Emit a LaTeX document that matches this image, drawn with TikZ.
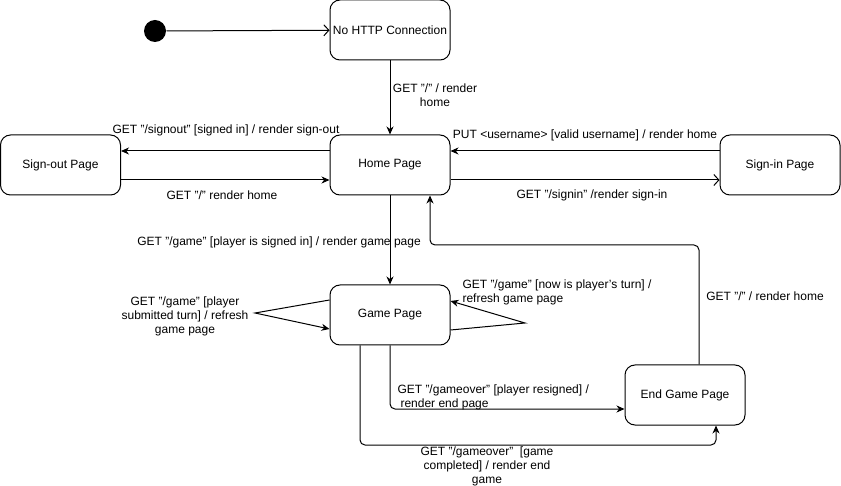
\documentclass[tikz,border=0pt]{standalone}
\usepackage{fontspec}
\setmainfont{Liberation Sans}
\usetikzlibrary{arrows.meta}
\begin{document}
\begin{tikzpicture}[x=1pt,y=-1pt,line width=1pt,
  state/.style={draw, rectangle, rounded corners=10pt, minimum width=120pt, minimum height=60pt, inner sep=0pt, font=\fontsize{12}{14}\selectfont},
  lbl/.style={font=\fontsize{12}{14}\selectfont, align=center, inner sep=0pt},
  lbll/.style={font=\fontsize{12}{14}\selectfont, align=left, inner sep=0pt, anchor=west},
  tr/.style={-{Stealth[length=8pt,width=7pt,inset=2.5pt]}},
  op/.style={-{Straight Barb[length=5pt,width=11pt]}}]
\useasboundingbox (0,0) rectangle (841,486);
\node[circle, fill=black, minimum size=22pt, inner sep=0pt] (start) at (155,31) {};
\node[state] (nohttp) at (390,30) {No HTTP Connection};
\node[state] (home) at (390,165) {Home Page};
\node[state] (signout) at (60.5,165) {Sign-out Page};
\node[state] (signin) at (780,165) {Sign-in Page};
\node[state] (game) at (390,315) {Game Page};
\node[state] (endg) at (685,395) {End Game Page};

\coordinate (lp) at (255,313);
\coordinate (rp) at (525,323);
\coordinate (c1) at (716,445);
\coordinate (c2) at (699,245);

\draw[op] (start) -- (nohttp);
\draw[tr] (nohttp) -- (home);
\draw[tr] ([yshift=14pt]home.west) -- ([yshift=14pt]signout.east);
\draw[tr] ([yshift=-15pt]signout.east) -- ([yshift=-15pt]home.west);
\draw[tr] ([yshift=14pt]signin.west) -- ([yshift=14pt]home.east);
\draw[op] ([yshift=-15pt]home.east) -- ([yshift=-15pt]signin.west);
\draw[tr] (home) -- (game);
\draw[tr] ([yshift=15pt]game.west) -- (lp) -- ([yshift=-14pt]game.west);
\draw[tr] ([yshift=-15pt]game.east) -- (rp) -- ([yshift=14pt]game.east);
\draw[tr, rounded corners=5pt] (game.south) |- ([yshift=-14pt]endg.west);
\draw[tr, rounded corners=5pt] ([xshift=-30pt]game.south) |- (c1) -- ([xshift=31pt]endg.south);
\draw[tr, rounded corners=5pt] ([xshift=14pt]endg.north) -- (c2) -| ([xshift=40pt]home.south);

\node[lbl] (l1) at (435,95.5) {GET "/" / render\\home};
\node[lbl] (l2) at (226,130) {GET "/signout" [signed in] / render sign-out};
\node[lbl] (l3) at (222,195) {GET "/" render home};
\node[lbl] (l4) at (585,135) {PUT <username> [valid username] / render home};
\node[lbl] (l5) at (592,195) {GET "/signin" /render sign-in};
\node[lbl] (l6) at (279,242) {GET "/game" [player is signed in] / render game page};
\node[lbl] (l7) at (185,316.5) {GET "/game" [player\\submitted turn] / refresh\\game page};
\node[lbll] (l8) at (462,292) {GET "/game" [now is player's turn] /\\refresh game page};
\node[lbll] (l9) at (397,397) {GET "/gameover" [player resigned] /\\\hspace*{3pt}render end page};
\node[lbl] (l10) at (487,466.5) {GET "/gameover"\ \ [game\\completed] / render end\\game};
\node[lbl] (l11) at (765,296) {GET "/" / render home};
\end{tikzpicture}
\end{document}
